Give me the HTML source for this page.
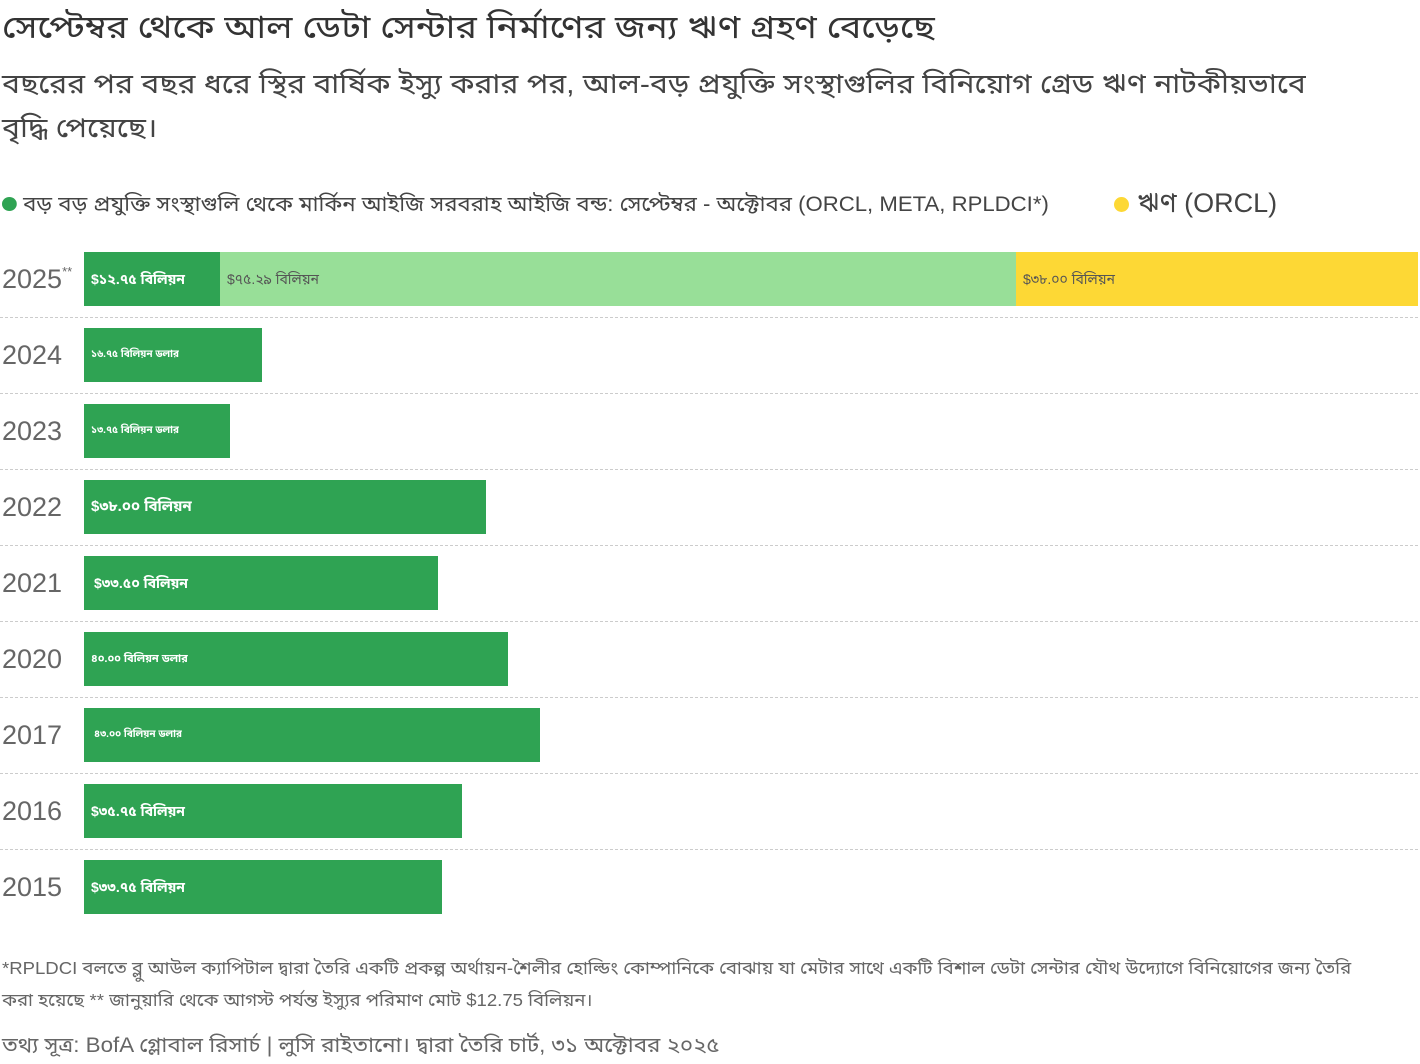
<!DOCTYPE html>
<html><head><meta charset="utf-8">
<style>
body{margin:0;width:1420px;height:1064px;background:#fff;font-family:"Liberation Sans","Noto Sans Bengali","Noto Sans CJK SC",sans-serif;color:#333;position:relative;overflow:hidden}
.a{position:absolute;white-space:nowrap;transform-origin:0 0}
.bar{position:absolute;height:54px;background:#2fa353}
.lab{position:absolute;top:0;height:54px;line-height:54px;color:#fff;font-weight:bold;font-size:14px;padding-left:7px;white-space:nowrap}
.yr{position:absolute;left:2px;font-size:27px;color:#666}
.sep{position:absolute;left:0;width:1418px;border-top:1px dashed #ccc}
</style></head><body>
<div class="a" style="left:2px;top:9px;font-size:32px;color:#333;transform:scaleX(1.125)">সেপ্টেম্বর থেকে আল ডেটা সেন্টার নির্মাণের জন্য ঋণ গ্রহণ বেড়েছে</div>
<div class="a" style="left:2px;top:69px;font-size:27px;color:#444;transform:scaleX(1.115)">বছরের পর বছর ধরে স্থির বার্ষিক ইস্যু করার পর, আল-বড় প্রযুক্তি সংস্থাগুলির বিনিয়োগ গ্রেড ঋণ নাটকীয়ভাবে</div>
<div class="a" style="left:2px;top:113px;font-size:27px;color:#444;transform:scaleX(1.115)">বৃদ্ধি পেয়েছে।</div>
<div class="a" style="left:2px;top:192px;font-size:21px;color:#444;transform:scaleX(1.055)"><span style="display:inline-block;width:14px;height:14px;border-radius:50%;background:#2fa353;margin-right:6px"></span>বড় বড় প্রযুক্তি সংস্থাগুলি থেকে মার্কিন আইজি সরবরাহ আইজি বন্ড: সেপ্টেম্বর - অক্টোবর (ORCL, META, RPLDCI*)</div>
<div class="a" style="left:1114px;top:188px;font-size:27px;color:#444"><span style="display:inline-block;width:15px;height:15px;border-radius:50%;background:#fdd835;margin-right:8px"></span>ঋণ (ORCL)</div>

<div class="bar" style="left:84px;top:252px;width:136px"><div class="lab">$১২.৭৫ বিলিয়ন</div></div>
<div class="bar" style="left:220px;top:252px;width:796px;background:#98df98"><div class="lab" style="color:#555;font-weight:normal">$৭৫.২৯ বিলিয়ন</div></div>
<div class="bar" style="left:1016px;top:252px;width:402px;background:#fdd835"><div class="lab" style="color:#555;font-weight:normal">$৩৮.০০ বিলিয়ন</div></div>
<div class="yr" style="top:264px">2025<sup style="font-size:13px;vertical-align:top">**</sup></div>
<div class="sep" style="top:317px"></div>

<div class="bar" style="left:84px;top:328px;width:178px"><div class="lab" style="font-size:10px">১৬.৭৫ বিলিয়ন ডলার</div></div>
<div class="yr" style="top:340px">2024</div><div class="sep" style="top:393px"></div>
<div class="bar" style="left:84px;top:404px;width:146px"><div class="lab" style="font-size:10px">১৩.৭৫ বিলিয়ন ডলার</div></div>
<div class="yr" style="top:416px">2023</div><div class="sep" style="top:469px"></div>
<div class="bar" style="left:84px;top:480px;width:402px"><div class="lab" style="font-size:15px">$৩৮.০০ বিলিয়ন</div></div>
<div class="yr" style="top:492px">2022</div><div class="sep" style="top:545px"></div>
<div class="bar" style="left:84px;top:556px;width:354px"><div class="lab" style="font-size:14px;padding-left:10px">$৩৩.৫০ বিলিয়ন</div></div>
<div class="yr" style="top:568px">2021</div><div class="sep" style="top:621px"></div>
<div class="bar" style="left:84px;top:632px;width:424px"><div class="lab" style="font-size:11px">৪০.০০ বিলিয়ন ডলার</div></div>
<div class="yr" style="top:644px">2020</div><div class="sep" style="top:697px"></div>
<div class="bar" style="left:84px;top:708px;width:456px"><div class="lab" style="font-size:10px;padding-left:10px">৪৩.০০ বিলিয়ন ডলার</div></div>
<div class="yr" style="top:720px">2017</div><div class="sep" style="top:773px"></div>
<div class="bar" style="left:84px;top:784px;width:378px"><div class="lab">$৩৫.৭৫ বিলিয়ন</div></div>
<div class="yr" style="top:796px">2016</div><div class="sep" style="top:849px"></div>
<div class="bar" style="left:84px;top:860px;width:358px"><div class="lab">$৩৩.৭৫ বিলিয়ন</div></div>
<div class="yr" style="top:872px">2015</div>

<div class="a" style="left:2px;top:958px;font-size:17.5px;color:#666;transform:scaleX(1.06)">*RPLDCI বলতে ব্লু আউল ক্যাপিটাল দ্বারা তৈরি একটি প্রকল্প অর্থায়ন-শৈলীর হোল্ডিং কোম্পানিকে বোঝায় যা মেটার সাথে একটি বিশাল ডেটা সেন্টার যৌথ উদ্যোগে বিনিয়োগের জন্য তৈরি</div>
<div class="a" style="left:2px;top:990px;font-size:17.5px;color:#666;transform:scaleX(1.06)">করা হয়েছে ** জানুয়ারি থেকে আগস্ট পর্যন্ত ইস্যুর পরিমাণ মোট $12.75 বিলিয়ন।</div>
<div class="a" style="left:2px;top:1033px;font-size:21px;color:#666;transform:scaleX(1.065)">তথ্য সূত্র: BofA গ্লোবাল রিসার্চ | লুসি রাইতানো। দ্বারা তৈরি চার্ট, ৩১ অক্টোবর ২০২৫</div>
</body></html>
